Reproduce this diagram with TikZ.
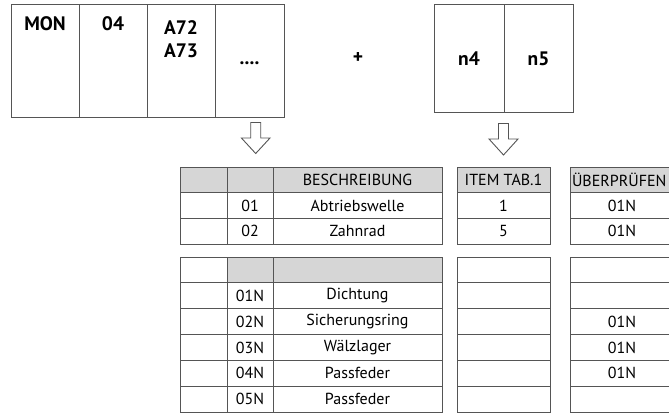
\documentclass[tikz,border=0pt]{standalone}
\usepackage{fontspec}
\setmainfont{PT Sans}
\definecolor{linec}{HTML}{555555}
\definecolor{hdrgray}{HTML}{D6D6D6}
\tikzset{
  x=1pt, y=-1pt,
  box/.style={draw=linec, line width=0.9pt, anchor=north west, inner sep=0pt, outer sep=0pt},
  bigtxt/.style={font=\fontsize{19.5}{21}\selectfont\bfseries, inner sep=0pt, anchor=base},
  cell/.style={draw=linec, line width=0.8pt, anchor=north west, inner sep=0pt, outer sep=0pt,
               minimum height=25.67pt, font=\fontsize{16}{18}\selectfont},
  cellb/.style={cell, minimum height=25.83pt},
  hdr/.style={fill=hdrgray},
  wa/.style={minimum width=47pt}, wb/.style={minimum width=46pt}, wc/.style={minimum width=169pt},
  wi/.style={minimum width=93pt}, wu/.style={minimum width=104pt},
  blockarrow/.style={draw=linec, line width=0.9pt, fill=white, line join=miter}
}
\begin{document}
\begin{tikzpicture}
\useasboundingbox (0,0) rectangle (669,414);
\clip (0,0) rectangle (669,414);
% top left boxes
\node[box, minimum width=68pt, minimum height=113pt] (b1) at (11,4) {};
\node[box, minimum width=68pt, minimum height=113pt] (b2) at (79,4) {};
\node[box, minimum width=68pt, minimum height=113pt] (b3) at (147,4) {};
\node[box, minimum width=69pt, minimum height=113pt] (b4) at (215,4) {};
\node[bigtxt] (tmon) at (45,31) {MON};
\node[bigtxt] (t04) at (113,31) {04};
\node[bigtxt] (ta72) at (181,35) {A72};
\node[bigtxt] (ta73) at (181,58) {A73};
\node[bigtxt] (tdots) at (249.5,65) {....};
\node[bigtxt] (plus) at (358,64) {+};
% top right boxes
\node[box, minimum width=70pt, minimum height=108pt] (bn4) at (434,4) {};
\node[box, minimum width=69pt, minimum height=108pt] (bn5) at (504,4) {};
\node[bigtxt] (tn4) at (469,66) {n4};
\node[bigtxt] (tn5) at (538.5,66) {n5};
% arrows
\draw[blockarrow] (250.7,122.5) -- (260.7,122.5) -- (260.7,138) -- (270,138) -- (255.7,153.5) -- (241.4,138) -- (250.7,138) -- cycle;
\draw[blockarrow] (498.5,123.5) -- (508.5,123.5) -- (508.5,139) -- (518,139) -- (503.5,155) -- (489,139) -- (498.5,139) -- cycle;
% table 1
\node[cell, hdr, wa] (a11) at (180,167) {};
\node[cell, hdr, wb] (a12) at (227,167) {};
\node[cell, hdr, wc] (a13) at (273,167) {BESCHREIBUNG};
\node[cell, hdr, wi] (i1) at (457,167) {ITEM TAB.1};
\node[cell, hdr, wu, text width=100pt, align=left] (u1) at (570,167) {ÜBERPRÜFEN};
\foreach \r/\y/\b/\c/\i/\u in {2/192.67/01/Abtriebswelle/1/01N, 3/218.33/02/Zahnrad/5/01N}{
  \node[cell, wa] (a\r1) at (180,\y) {};
  \node[cell, wb] (a\r2) at (227,\y) {\b};
  \node[cell, wc] (a\r3) at (273,\y) {\c};
  \node[cell, wi] (i\r) at (457,\y) {\i};
  \node[cell, wu] (u\r) at (570,\y) {\u};
}
% table 2
\node[cellb, wa] (b11) at (180,257) {};
\node[cellb, hdr, wb] (b12) at (227,257) {};
\node[cellb, hdr, wc] (b13) at (273,257) {};
\node[cellb, wi] (j1) at (457,257) {};
\node[cellb, wu] (v1) at (570,257) {};
\foreach \r/\y/\b/\c/\u in {2/282.83/01N/Dichtung/, 3/308.67/02N/Sicherungsring/01N, 4/334.5/03N/Wälzlager/01N, 5/360.33/04N/Passfeder/01N, 6/386.17/05N/Passfeder/}{
  \node[cellb, wa] (b\r1) at (180,\y) {};
  \node[cellb, wb] (b\r2) at (227,\y) {\b};
  \node[cellb, wc] (b\r3) at (273,\y) {\c};
  \node[cellb, wi] (j\r) at (457,\y) {};
  \node[cellb, wu] (v\r) at (570,\y) {\u};
}
\end{tikzpicture}
\end{document}
